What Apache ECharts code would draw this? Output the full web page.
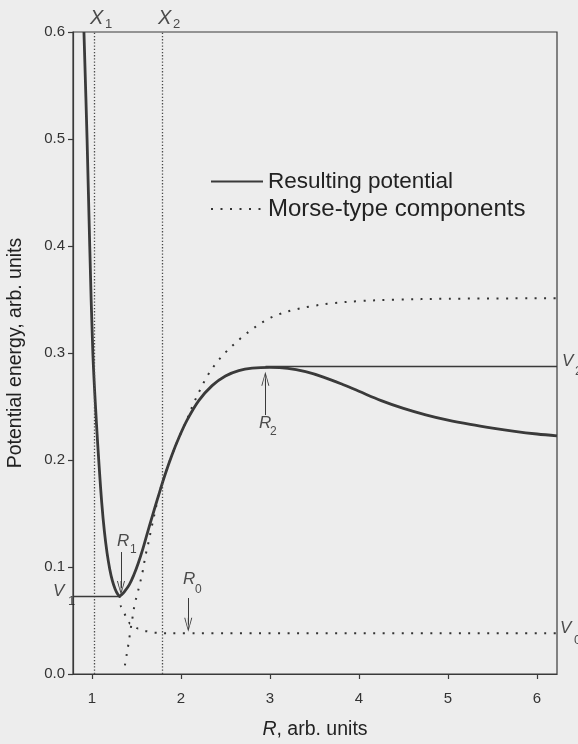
<!DOCTYPE html>
<html><head><meta charset="utf-8">
<script src="https://cdn.jsdelivr.net/npm/echarts@6/dist/echarts.min.js"></script>
<style>html,body{margin:0;padding:0;background:#ededed;}#c{width:578px;height:744px;}</style>
</head><body><div id="c"></div>
<script>
// ---- data ----
const xTicks = [1, 2, 3, 4, 5, 6];
const yTicks = [0, 0.1, 0.2, 0.3, 0.4, 0.5, 0.6];

const resultR = [0.91, 0.945, 0.975, 1.01, 1.05, 1.08, 1.11, 1.14, 1.17, 1.20, 1.23, 1.26, 1.29, 1.31, 1.33, 1.37, 1.42, 1.47, 1.52, 1.57, 1.62, 1.68, 1.745, 1.82, 1.90, 1.98, 2.07, 2.20, 2.35, 2.50, 2.65, 2.80, 3.00, 3.20, 3.40, 3.60, 3.80, 4.00, 4.25, 4.50, 4.75, 5.00, 5.25, 5.50, 5.75, 6.00, 6.225];
const resultV = [0.600, 0.500, 0.400, 0.300, 0.235, 0.195, 0.160, 0.133, 0.113, 0.098, 0.087, 0.0795, 0.0745, 0.073, 0.0738, 0.0775, 0.0835, 0.0925, 0.1035, 0.1165, 0.131, 0.148, 0.166, 0.186, 0.205, 0.2215, 0.2375, 0.2555, 0.2695, 0.2785, 0.2835, 0.2858, 0.2866, 0.2857, 0.2825, 0.2775, 0.2712, 0.2642, 0.2555, 0.2482, 0.2422, 0.2372, 0.2332, 0.2298, 0.2268, 0.2243, 0.2225];

const morseRightR = [1.37, 1.39, 1.41, 1.435, 1.46, 1.48, 1.51, 1.54, 1.57, 1.60, 1.63, 1.67, 1.72, 1.745, 1.82, 1.90, 1.98, 2.07, 2.14, 2.22, 2.30, 2.40, 2.50, 2.60, 2.70, 2.80, 2.90, 3.00, 3.10, 3.25, 3.45, 3.70, 4.00, 4.40, 5.00, 6.225];
const morseRightV = [0.008, 0.018, 0.028, 0.042, 0.055, 0.065, 0.075, 0.085, 0.096, 0.110, 0.121, 0.137, 0.156, 0.166, 0.186, 0.205, 0.2215, 0.2385, 0.2525, 0.2665, 0.279, 0.291, 0.3005, 0.3085, 0.3158, 0.3222, 0.328, 0.3327, 0.3362, 0.3400, 0.3435, 0.3465, 0.3485, 0.3498, 0.3507, 0.3512];

const morseLeftR = [1.31, 1.326, 1.36, 1.39, 1.43, 1.47, 1.52, 1.60, 1.71, 1.82, 6.225];
const morseLeftV = [0.073, 0.063, 0.057, 0.052, 0.047, 0.0445, 0.0425, 0.040, 0.0385, 0.038, 0.038];

// boundary points X1, X2 and levels V1, V2
const xBoundaries = [1.034, 1.79];
const levelV1 = { from: [0.787, 0.073], to: [1.31, 0.073] };
const levelV2 = { from: [2.95, 0.2875], to: [6.225, 0.2875] };

// arrows: tail and head-centre
const arrowStart = [[1.326, 0.114], [2.082, 0.071], [2.948, 0.242]];
const arrowEnd   = [[1.326, 0.0804], [2.082, 0.0461], [2.948, 0.276]];

// annotation texts: main italic letters and subscripts
const labelMain  = ['X', 'X', 'R', 'R', 'R', 'V', 'V', 'V'];
const labelMainR = [0.9775, 1.7416, 1.281, 2.0225, 2.876, 0.562, 6.281, 6.258];
const labelMainV = [0.6222, 0.6222, 0.1321, 0.0965, 0.2423, 0.0853, 0.3003, 0.0507];
const labelSub   = ['1', '2', '1', '0', '2', '1', '2', '0'];
const labelSubR  = [1.146, 1.910, 1.427, 2.157, 3.000, 0.730, 6.427, 6.416];
const labelSubV  = [0.6128, 0.6128, 0.1221, 0.0847, 0.2323, 0.0736, 0.2885, 0.0371];

const legendNames = ['Resulting potential', 'Morse-type components'];

// ---- chart ----
const FONT = '"Liberation Sans", Arial, Helvetica, sans-serif';
const INK = '#3a3a3a';
const TXT = '#222';
const pairs = (xs, ys) => xs.map((x, i) => [x, ys[i]]);
const arrowPath = 'path://M0,14 L5,0 L10,14 L8.8,14 L5.5,3.5 L5.5,14 L4.5,14 L4.5,3.5 L1.2,14 Z';

const chart = echarts.init(document.getElementById('c'));

const markData = [];
xBoundaries.forEach(x => markData.push({ xAxis: x, lineStyle: { type: [1.3, 1.9], width: 1.3, color: '#4a4a4a' } }));
[levelV1, levelV2].forEach(l => markData.push([
  { coord: l.from, symbol: 'none', lineStyle: { type: 'solid', width: 1.3, color: INK } },
  { coord: l.to, symbol: 'none' }
]));
arrowStart.forEach((s, i) => markData.push([
  { coord: s, symbol: 'none', lineStyle: { type: 'solid', width: 1, color: INK } },
  { coord: arrowEnd[i], symbol: arrowPath, symbolSize: [8, 14] }
]));

const mainData = labelMain.map((t, i) => ({ value: [labelMainR[i], labelMainV[i]], t: t }));
const subData = labelSub.map((t, i) => ({ value: [labelSubR[i], labelSubV[i]], t: t, big: labelMain[i] !== 'R' }));

const textSeries = (name, data, styleFn) => ({
  name: name, type: 'scatter', clip: false, symbolSize: 1, z: 6, silent: true,
  itemStyle: { color: 'rgba(0,0,0,0)' },
  data: data.map(d => Object.assign({}, d, { label: styleFn(d) })),
  label: { show: true, position: 'inside', align: 'left', verticalAlign: 'top', color: TXT, fontFamily: FONT, formatter: p => p.data.t }
});

const dotted = { color: '#333', width: 2, type: [2, 7.5], cap: 'butt' };

const option = {
  backgroundColor: '#ededed',
  animation: false,
  textStyle: { fontFamily: FONT },
  grid: { left: 73, right: 21, top: 32, bottom: 70, show: true, borderColor: INK, borderWidth: 1.2, backgroundColor: 'transparent', outerBoundsMode: 'none' },
  legend: {
    data: [
      { name: legendNames[0], textStyle: { fontSize: 22.5 } },
      { name: legendNames[1], textStyle: { fontSize: 24 } }
    ],
    orient: 'vertical', left: 210, top: 170, itemWidth: 52, itemHeight: 14, itemGap: 4, padding: 0,
    itemStyle: { color: 'rgba(0,0,0,0)', borderWidth: 0, opacity: 0 },
    textStyle: { fontSize: 22.5, color: TXT, fontFamily: FONT }
  },
  xAxis: {
    type: 'value', min: 0.787, max: 6.225,
    name: '{i|R}, arb. units', nameLocation: 'middle', nameGap: 46,
    nameTextStyle: { fontSize: 19.5, color: TXT, fontFamily: FONT, rich: { i: { fontStyle: 'italic', fontSize: 19.5, fontFamily: FONT, color: TXT } } },
    axisLine: { show: true, onZero: false, lineStyle: { color: INK, width: 1.2 } },
    axisTick: { show: true, length: 5, customValues: xTicks, lineStyle: { color: INK, width: 1.2 } },
    axisLabel: { customValues: xTicks, fontSize: 15, color: '#333', margin: 17, fontFamily: FONT, formatter: v => String(v) },
    splitLine: { show: false }
  },
  yAxis: {
    type: 'value', min: 0, max: 0.6, interval: 0.1,
    name: 'Potential energy, arb. units', nameLocation: 'middle', nameGap: 47,
    nameTextStyle: { fontSize: 19.5, color: TXT, fontFamily: FONT },
    axisLine: { show: true, lineStyle: { color: INK, width: 1.2 } },
    axisTick: { show: true, length: 5, lineStyle: { color: INK, width: 1.2 } },
    axisLabel: { fontSize: 15, color: '#333', margin: 8, fontFamily: FONT, formatter: v => yTicks.find(t => Math.abs(t - v) < 1e-9).toFixed(1) },
    splitLine: { show: false }
  },
  series: [
    { name: legendNames[1], type: 'line', data: pairs(morseRightR, morseRightV), symbol: 'none', showSymbol: false, smooth: 0.35, z: 2,
      itemStyle: { color: '#333' }, lineStyle: dotted },
    { name: legendNames[1], type: 'line', data: pairs(morseLeftR, morseLeftV), symbol: 'none', showSymbol: false, smooth: 0.35, smoothMonotone: 'x', z: 2,
      itemStyle: { color: '#333' }, lineStyle: dotted },
    { name: legendNames[0], type: 'line', data: pairs(resultR, resultV), symbol: 'none', showSymbol: false, smooth: 0.35, z: 4,
      itemStyle: { color: INK }, lineStyle: { color: INK, width: 2.8, join: 'round' } },
    { name: 'guides', type: 'line', data: [], symbol: 'none', z: 3,
      markLine: { silent: true, animation: false, label: { show: false }, symbol: ['none', 'none'], data: markData } },
    textSeries('labelsMain', mainData, d => ({ fontStyle: 'italic', fontSize: d.t === 'X' ? 20 : 17 })),
    textSeries('labelsSub', subData, d => ({ fontSize: d.big ? 13 : 12 }))
  ]
};
chart.setOption(option);
</script>
</body></html>
